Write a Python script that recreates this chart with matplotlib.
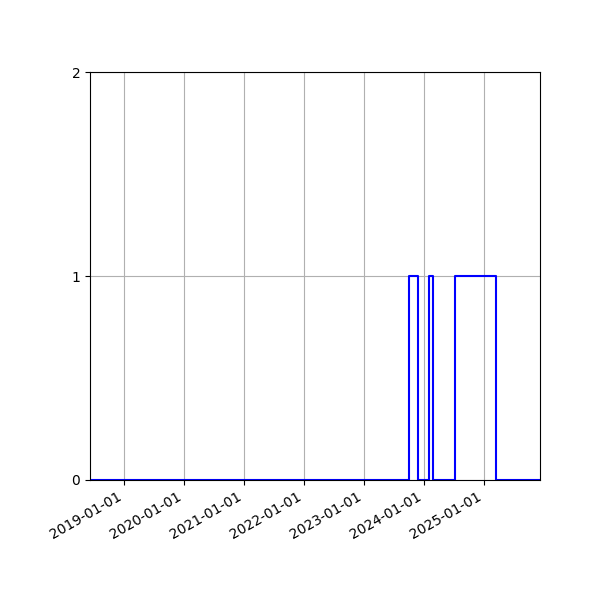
import matplotlib
matplotlib.use("Agg")
import matplotlib.pyplot as plt
import matplotlib.dates as mdates
import numpy as np
import datetime as dt

dates = ["2018-06-08", "2023-10-04", "2023-11-26", "2024-01-31", "2024-02-25",
         "2024-07-08", "2025-03-15", "2025-12-08"]
values = [0, 1, 0, 1, 0, 1, 0, 0]
yticks = [0, 1, 2]

x = [dt.datetime.strptime(d, "%Y-%m-%d") for d in dates]

fig, ax = plt.subplots(figsize=(6, 6), dpi=100)
fig.subplots_adjust(left=0.15, right=0.9, top=0.88, bottom=0.2)
ax.step(x, values, where="post", color="blue", linewidth=1.5)
ax.set_xlim(x[0], x[-1])
ax.set_ylim(0, 2)
ax.set_yticks(yticks)
ax.xaxis.set_major_locator(mdates.YearLocator())
ax.xaxis.set_major_formatter(mdates.DateFormatter("%Y-%m-%d"))
ax.grid(True)
for lbl in ax.get_xticklabels():
    lbl.set_rotation(30)
    lbl.set_ha("right")
fig.savefig("out.png", dpi=100)
